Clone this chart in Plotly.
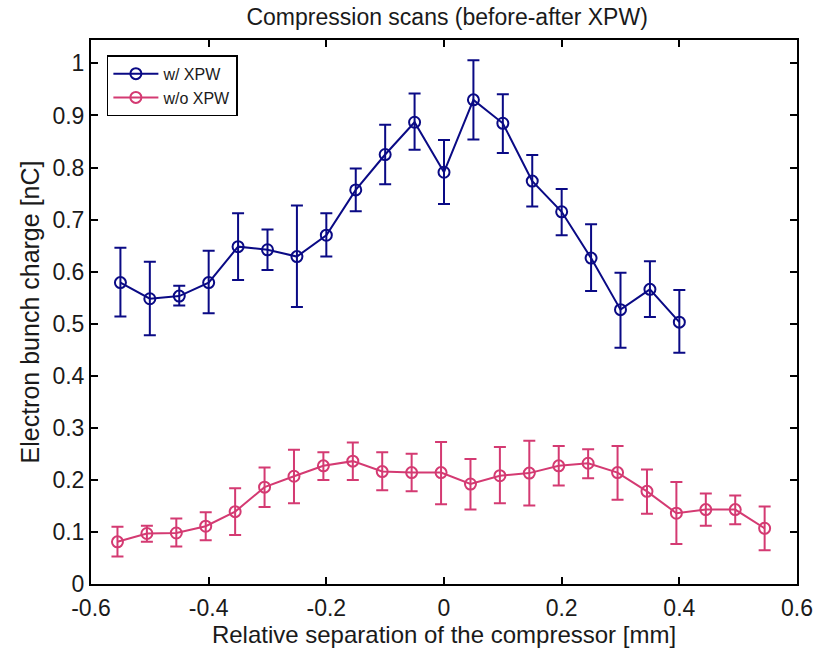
import plotly.graph_objects as go

# ---- data ----
x_with = [-0.55, -0.50, -0.45, -0.40, -0.35, -0.30, -0.25, -0.20, -0.15, -0.10,
          -0.05, 0.00, 0.05, 0.10, 0.15, 0.20, 0.25, 0.30, 0.35, 0.40]
y_with = [0.579, 0.548, 0.553, 0.579, 0.648, 0.642, 0.629, 0.670, 0.757, 0.825,
          0.887, 0.791, 0.930, 0.885, 0.774, 0.715, 0.626, 0.527, 0.566, 0.503]
err_with_up = [0.067, 0.071, 0.020, 0.061, 0.064, 0.039, 0.098, 0.042, 0.041, 0.057,
               0.055, 0.062, 0.076, 0.056, 0.050, 0.044, 0.065, 0.071, 0.054, 0.062]
err_with_dn = [0.065, 0.070, 0.018, 0.059, 0.064, 0.039, 0.097, 0.041, 0.041, 0.057,
               0.053, 0.061, 0.076, 0.057, 0.049, 0.045, 0.063, 0.073, 0.053, 0.059]

x_without = [-0.555, -0.505, -0.455, -0.405, -0.355, -0.305, -0.255, -0.205, -0.155, -0.105,
             -0.055, -0.005, 0.045, 0.095, 0.145, 0.195, 0.245, 0.295, 0.345, 0.395,
             0.445, 0.495, 0.545]
y_without = [0.081, 0.097, 0.098, 0.111, 0.139, 0.186, 0.207, 0.227, 0.236, 0.216,
             0.214, 0.214, 0.192, 0.208, 0.213, 0.227, 0.232, 0.214, 0.178, 0.136,
             0.143, 0.143, 0.107]
err_without_up = [0.029, 0.015, 0.028, 0.027, 0.045, 0.038, 0.051, 0.026, 0.036, 0.037,
                  0.036, 0.059, 0.048, 0.055, 0.062, 0.038, 0.027, 0.051, 0.042, 0.060,
                  0.031, 0.027, 0.042]
err_without_dn = [0.028, 0.016, 0.026, 0.027, 0.045, 0.038, 0.052, 0.027, 0.036, 0.036,
                  0.036, 0.061, 0.049, 0.053, 0.062, 0.038, 0.029, 0.052, 0.043, 0.059,
                  0.031, 0.028, 0.042]

x_ticks = [-0.6, -0.4, -0.2, 0, 0.2, 0.4, 0.6]
x_tick_labels = ["-0.6", "-0.4", "-0.2", "0", "0.2", "0.4", "0.6"]
y_ticks = [0, 0.1, 0.2, 0.3, 0.4, 0.5, 0.6, 0.7, 0.8, 0.9, 1.0]
y_tick_labels = ["0", "0.1", "0.2", "0.3", "0.4", "0.5", "0.6", "0.7", "0.8", "0.9", "1"]

BLUE = "#0a0a85"
PINK = "#d43a72"
FONT = "Liberation Sans, Arial, sans-serif"
TXT = "#1a1a1a"

fig = go.Figure()

def add_series(x, y, up, dn, color, name):
    fig.add_trace(go.Scatter(
        x=x, y=y, name=name, mode="lines+markers",
        line=dict(color=color, width=2),
        marker=dict(symbol="circle-open", size=11, color=color,
                    line=dict(color=color, width=2)),
        error_y=dict(type="data", symmetric=False, array=up, arrayminus=dn,
                     color=color, thickness=2, width=6),
    ))

add_series(x_with, y_with, err_with_up, err_with_dn, BLUE, "w/ XPW")
add_series(x_without, y_without, err_without_up, err_without_dn, PINK, "w/o XPW")

axis_common = dict(
    showgrid=False, zeroline=False, showline=True, linecolor="black", linewidth=2,
    mirror="ticks", ticks="inside", ticklen=7, tickwidth=1.5, tickcolor="black",
    tickfont=dict(family=FONT, size=23, color=TXT),
)

fig.update_layout(
    width=825, height=650,
    margin=dict(l=91, r=22, t=40, b=66),
    paper_bgcolor="white", plot_bgcolor="white",
    title=dict(text="Compression scans (before-after XPW)", x=0.542, xanchor="center",
               y=0.986, yanchor="top",
               font=dict(family=FONT, size=23, color=TXT)),
    font=dict(family=FONT, color=TXT),
    xaxis=dict(range=[-0.6, 0.6], tickvals=x_ticks, ticktext=x_tick_labels,
               title=dict(text="Relative separation of the compressor [mm]",
                          font=dict(family=FONT, size=24, color=TXT), standoff=1),
               ticklabelstandoff=2,
               **axis_common),
    yaxis=dict(range=[0, 1.045], tickvals=y_ticks, ticktext=y_tick_labels,
               title=dict(text="Electron bunch charge [nC]",
                          font=dict(family=FONT, size=25, color=TXT), standoff=6),
               **axis_common),
    legend=dict(x=0.0225, y=0.972, xanchor="left", yanchor="top",
                bgcolor="white", bordercolor="black", borderwidth=1.5,
                font=dict(family=FONT, size=16, color=TXT),
                tracegroupgap=0, itemwidth=45),
    showlegend=True,
)

fig.write_html("out.html")
